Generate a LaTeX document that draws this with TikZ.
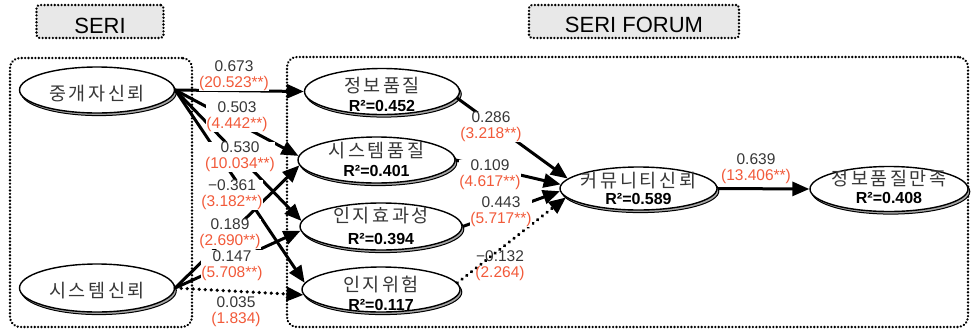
\documentclass[tikz,border=0pt]{standalone}
\usepackage{fontspec}
\setmainfont{Liberation Sans}
\newfontfamily\kr{Noto Sans CJK KR}[LetterSpace=14]
\usetikzlibrary{arrows.meta,shapes.geometric,shadows}
\definecolor{tval}{RGB}{242,90,58}
\definecolor{txt}{RGB}{55,55,55}
\definecolor{hdr}{RGB}{232,232,232}
\tikzset{
  ell/.style={ellipse, draw=black, line width=1.4pt, fill=white, inner sep=0pt,
    copy shadow={shadow xshift=1.8pt, shadow yshift=-2.6pt, fill=black!35, draw=black, line width=1pt}},
  krtext/.style={font=\kr\fontsize{18.5}{18.5}\selectfont, text=txt, anchor=base, inner sep=0pt},
  rsq/.style={font=\bfseries\fontsize{16}{16}\selectfont, text=black, anchor=base, inner sep=0pt},
  lab/.style={font=\fontsize{15.5}{16}\selectfont, text=txt, align=center, fill=white, inner sep=0pt},
  nolab/.style={font=\fontsize{15.5}{16}\selectfont, text=txt, align=center, inner sep=0pt},
  hdrbox/.style={draw=black, fill=hdr, line width=2.6pt, dash pattern=on 0.01pt off 3.4pt, line cap=round, rounded corners=3pt, inner sep=0pt},
  hdrtxt/.style={font=\fontsize{22}{22}\selectfont, anchor=base, inner sep=0pt},
  grpbox/.style={draw=black, line width=2.6pt, dash pattern=on 0.01pt off 3.4pt, line cap=round, rounded corners=10pt, inner sep=0pt},
  arr/.style={line width=3pt, -{Triangle[length=17pt, width=14pt]}},
  darr/.style={line width=3.6pt, dash pattern=on 0.01pt off 6pt, line cap=round, -{Triangle[length=17pt, width=14pt]}},
}
\begin{document}
\begin{tikzpicture}[x=1pt,y=-1pt]
\useasboundingbox (0,0) rectangle (971,335);
% headers
\node[hdrbox, minimum width=127pt, minimum height=33pt] (h1) at (100,21.5) {};
\node[hdrtxt] (h1t) at (100,33) {SERI};
\node[hdrbox, minimum width=210pt, minimum height=33pt] (h2) at (634,21.5) {};
\node[hdrtxt] (h2t) at (634,32.7) {SERI FORUM};
% group boxes
\node[grpbox, minimum width=182pt, minimum height=269pt] (g1) at (101,192.5) {};
\node[grpbox, minimum width=681pt, minimum height=270pt] (g2) at (627.5,192) {};
% ellipses
\node[ell, minimum width=155pt, minimum height=46pt] (n1) at (97,90) {};
\node[ell, minimum width=155pt, minimum height=48pt] (n2) at (97,288) {};
\node[ell, minimum width=155pt, minimum height=46pt] (iq) at (382,91.5) {};
\node[ell, minimum width=157pt, minimum height=46pt] (sq) at (376.5,160) {};
\node[ell, minimum width=162pt, minimum height=47pt] (ie) at (381,226.5) {};
\node[ell, minimum width=158pt, minimum height=45pt] (ir) at (381,289.5) {};
\node[ell, minimum width=157pt, minimum height=43pt] (ct) at (638.5,188.5) {};
\node[ell, minimum width=158pt, minimum height=45pt] (sat) at (889,189) {};
% ellipse texts
\node[krtext] (n1t) at (97,100.5) {중개자신뢰};
\node[krtext] (n2t) at (97,297) {시스템신뢰};
\node[krtext] (iqt) at (382,92.3) {정보품질};
\node[rsq] (iqr) at (382,111.7) {R²=0.452};
\node[krtext] (sqt) at (376.5,157) {시스템품질};
\node[rsq] (sqr) at (376.5,176.7) {R²=0.401};
\node[krtext] (iet) at (381,222) {인지효과성};
\node[rsq] (ier) at (381,244) {R²=0.394};
\node[krtext] (irt) at (381,291) {인지위험};
\node[rsq] (irr) at (381,310.5) {R²=0.117};
\node[krtext] (ctt) at (638.5,187.3) {커뮤니티신뢰};
\node[rsq] (ctr) at (638.5,204) {R²=0.589};
\node[krtext] (satt) at (889,185.7) {정보품질만족};
\node[rsq] (satr) at (889,203.3) {R²=0.408};
% connectors
\draw[arr] (n1.east) -- (iq.west);
\draw[arr] (n1.east) -- (sq.177);
\draw[arr] (n1.east) -- (ie.176);
\draw[arr] (n1.east) -- (ir.175);
\draw[arr] (n2.east) -- (sq.184);
\draw[arr] (n2.east) -- (ie.183);
\draw[darr] (n2.east) -- (ir.184);
\draw[arr] (iq.-5) -- (ct.172);
\draw[arr] (sq.east) -- (ct.177);
\draw[arr] (ie.east) -- (ct.182);
\draw[darr] (ir.5) -- (ct.187);
\draw[arr] (ct.east) -- (sat.west);
% labels
\node[lab] (l1) at (234,75.6) {0.673\\\textcolor{tval}{(20.523**)}};
\node[lab] (l2) at (237,116.6) {0.503\\\textcolor{tval}{(4.442**)}};
\node[lab] (l3) at (240,156.6) {0.530\\\textcolor{tval}{(10.034**)}};
\node[lab] (l4) at (232,194.6) {−0.361\\\textcolor{tval}{(3.182**)}};
\node[lab] (l5) at (230,234) {0.189\\\textcolor{tval}{(2.690**)}};
\node[lab] (l6) at (232,265.5) {0.147\\\textcolor{tval}{(5.708**)}};
\node[lab] (l7) at (236,311.6) {0.035\\\textcolor{tval}{(1.834)}};
\node[lab] (r1) at (491,126.6) {0.286\\\textcolor{tval}{(3.218**)}};
\node[lab] (r2) at (490,174.6) {0.109\\\textcolor{tval}{(4.617**)}};
\node[lab] (r3) at (501,211.6) {0.443\\\textcolor{tval}{(5.717**)}};
\node[nolab] (r4) at (500,265.6) {−0.132\\\textcolor{tval}{(2.264)}};
\node[lab] (r5) at (756,168.6) {0.639\\\textcolor{tval}{(13.406**)}};
\end{tikzpicture}
\end{document}
